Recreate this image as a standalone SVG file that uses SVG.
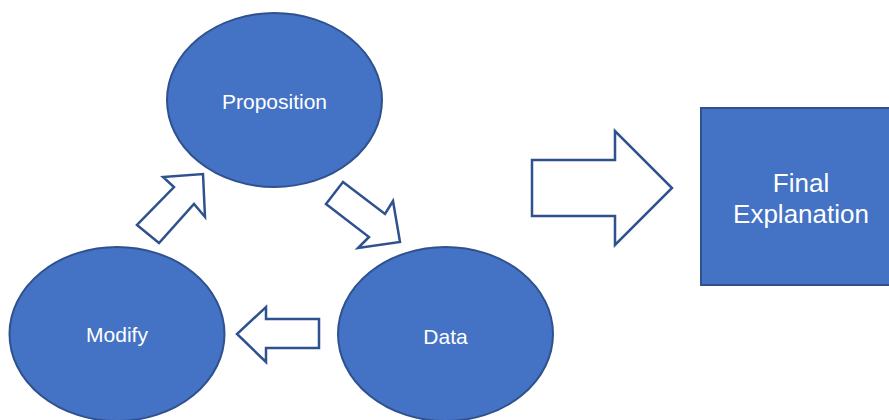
<svg xmlns="http://www.w3.org/2000/svg" width="889" height="420" viewBox="0 0 889 420">
<style>
.node{fill:#4472C4;stroke:#2F528F;stroke-width:2}
.lbl{fill:#fff;font-family:"Liberation Sans",Arial,sans-serif;font-size:21px;text-anchor:middle}
.big{font-size:26px}
.arr{fill:#fff;stroke:#2F528F;stroke-width:2.5;stroke-linejoin:miter}
</style>
<rect width="889" height="420" fill="#fff"/>
<g id="connectors">
<polygon class="arr" points="137,225 159,243 194,204 205,217 203,174 163,177 174,187"/>
<polygon class="arr" points="343,182 326,204 369,237 358,248 400,242 393,201 385,214"/>
<polygon class="arr" points="319,319 266,319 266,307 237,334 266,362 266,348 319,348"/>
<polygon class="arr" points="532,160 615,160 615,131 672,188 615,245 615,216 532,216"/>
</g>
<g id="proposition">
<ellipse class="node" cx="274.5" cy="100" rx="107.5" ry="87"/>
<text class="lbl" x="274.5" y="109">Proposition</text>
</g>
<g id="data">
<ellipse class="node" cx="445.5" cy="334" rx="107.5" ry="87"/>
<text class="lbl" x="445.5" y="344">Data</text>
</g>
<g id="modify">
<ellipse class="node" cx="117" cy="334" rx="107.5" ry="87"/>
<text class="lbl" x="117" y="342">Modify</text>
</g>
<g id="final">
<rect class="node" x="701" y="108" width="200" height="177"/>
<text class="lbl big" x="801" y="192">Final</text>
<text class="lbl big" x="801" y="223">Explanation</text>
</g>
</svg>
